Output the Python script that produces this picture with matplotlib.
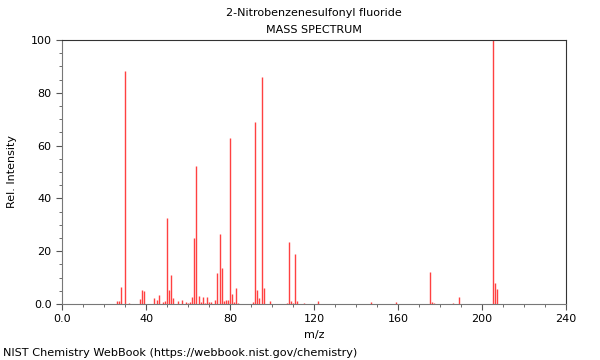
import numpy as np
import matplotlib
matplotlib.use('Agg')
import matplotlib.pyplot as plt
from matplotlib.ticker import MultipleLocator

# m/z and relative intensity
mz = [26, 27, 28, 30, 32, 37, 38, 39, 44, 45, 46, 48, 49, 50, 51, 52, 53, 55, 57,
      59, 60, 61, 62, 63, 64, 65, 66, 67, 68, 69, 70, 71, 73, 74, 75, 76, 77, 78,
      79, 80, 81, 82, 83, 84, 91, 92, 93, 94, 95, 96, 99, 107, 108, 109, 110, 111,
      112, 115, 122, 147, 159, 175, 176, 177, 186, 189, 205, 206, 207]
intensity = [1.0, 1.0, 6.6, 88.2, 0.5, 1.8, 5.3, 5.0, 2.3, 1.5, 3.4, 0.7, 1.0, 32.6,
             5.4, 11.1, 2.3, 1.0, 1.6, 0.6, 0.5, 0.9, 2.7, 24.9, 52.4, 3.1, 0.9, 2.8,
             0.5, 2.5, 0.8, 0.8, 1.6, 11.8, 26.4, 13.8, 1.3, 1.5, 1.5, 63.0, 3.7, 0.9,
             6.2, 0.3, 0.9, 69.0, 5.2, 2.1, 86.1, 6.2, 1.0, 0.4, 23.6, 1.2, 0.5, 18.9,
             1.1, 0.5, 1.3, 0.8, 0.8, 12.3, 0.9, 0.5, 0.4, 2.8, 100.0, 7.8, 5.7]

xticks = [0, 40, 80, 120, 160, 200, 240]
xlabels = ['0.0', '40', '80', '120', '160', '200', '240']
yticks = [0, 20, 40, 60, 80, 100]
ylabels = ['0.0', '20', '40', '60', '80', '100']

fig = plt.figure(figsize=(6, 3.6), dpi=100)
ax = fig.add_axes([62/600, 1 - 304/360, 504/600, 264/360])

ax.vlines(mz, 0, intensity, colors='#ff2020', linewidth=1.0, alpha=0.85)

ax.set_xlim(0, 240)
ax.set_ylim(0, 100)
ax.set_xticks(xticks)
ax.set_xticklabels(xlabels)
ax.set_yticks(yticks)
ax.set_yticklabels(ylabels)
ax.xaxis.set_minor_locator(MultipleLocator(10))
ax.yaxis.set_minor_locator(MultipleLocator(5))
ax.tick_params(which='both', direction='out', labelsize=8, color='#555555')
ax.tick_params(which='major', length=4)
ax.tick_params(which='minor', length=2.5)
for s in ['left', 'bottom']:
    ax.spines[s].set_color('#777777')
for s in ['top', 'right']:
    ax.spines[s].set_color('#333333')

ax.set_xlabel('m/z', fontsize=8, labelpad=4)
ax.set_ylabel('Rel. Intensity', fontsize=8, labelpad=10)

cx = 314/600
fig.text(cx, 1 - 13/360, '2-Nitrobenzenesulfonyl fluoride', ha='center', va='center', fontsize=8)
fig.text(cx, 1 - 30/360, 'MASS SPECTRUM', ha='center', va='center', fontsize=8)
fig.text(3/600, 1 - 353/360, 'NIST Chemistry WebBook (https://webbook.nist.gov/chemistry)',
         ha='left', va='center', fontsize=8.15)

fig.savefig('out.png', dpi=100)
